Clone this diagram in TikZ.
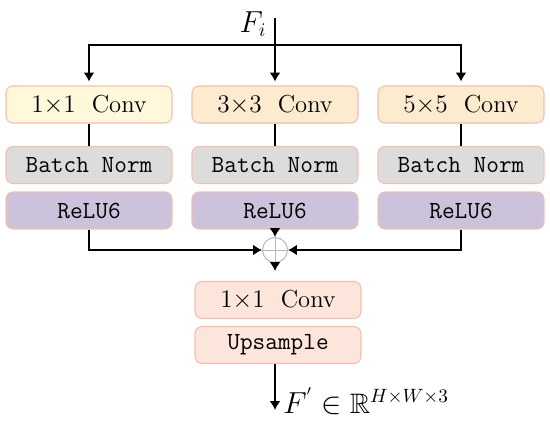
\documentclass[tikz,border=0pt]{standalone}
\usepackage{amsmath, amssymb}
\usetikzlibrary{arrows.meta}

\definecolor{edgepink}{HTML}{F2BFB0}
\definecolor{convone}{HTML}{FFF8DA}
\definecolor{convmany}{HTML}{FDEBCF}
\definecolor{normgray}{HTML}{DCDCDC}
\definecolor{relupurple}{HTML}{CCC2DC}
\definecolor{headpeach}{HTML}{FCE5DA}

\begin{document}
\begin{tikzpicture}[x=0.02cm, y=-0.02cm, line width=0.8pt,
  >={Latex[length=5pt,width=6pt]},
  blk/.style={draw=edgepink, line width=0.6pt, rounded corners=4pt,
    minimum width=3.32cm, minimum height=0.74cm, inner sep=0pt,
    font=\fontsize{14}{16}\selectfont},
  mono/.style={blk, font=\fontsize{14}{16}\selectfont\ttfamily}]
\useasboundingbox (0,0) rectangle (550,420);

% three branches
\node[blk, fill=convone] (c1) at (89,104.5) {$1{\times}1$\ \ Conv};
\node[blk, fill=convmany] (c2) at (275,104.5) {$3{\times}3$\ \ Conv};
\node[blk, fill=convmany] (c3) at (461,104.5) {$5{\times}5$\ \ Conv};
\node[mono, fill=normgray] (b1) at (89,165) {Batch Norm};
\node[mono, fill=normgray] (b2) at (275,165) {Batch Norm};
\node[mono, fill=normgray] (b3) at (461,165) {Batch Norm};
\node[mono, fill=relupurple] (r1) at (89,210.5) {ReLU6};
\node[mono, fill=relupurple] (r2) at (275,210.5) {ReLU6};
\node[mono, fill=relupurple] (r3) at (461,210.5) {ReLU6};

% fusion
\node[circle, draw=gray!55, fill=white, line width=0.6pt, minimum size=0.5cm, inner sep=0pt] (sum) at (275,250) {};
\draw[gray!55, line width=0.4pt] (sum.north) -- (sum.south) (sum.west) -- (sum.east);
\node[blk, fill=headpeach] (d1) at (278,300) {$1{\times}1$\ \ Conv};
\node[mono, fill=headpeach] (d2) at (278,345) {Upsample};

% input and output
\coordinate (in) at (275,18);
\coordinate (split) at (275,45);
\coordinate (out) at (275,410);
\node[font=\fontsize{16}{18}\selectfont, anchor=east] (fin) at (273,24) {$F_i$};
\node[font=\fontsize{16}{18}\selectfont, anchor=west, inner sep=1pt] (fout) at (281,401) {$F^{'}\in\mathbb{R}^{H\times W\times 3}$};

\draw[->, shorten >=0.08cm] (in) -- (c2);
\draw[->, shorten >=0.08cm] (split) -| (c1);
\draw[->, shorten >=0.08cm] (split) -| (c3);
\draw (c1) -- (b1);
\draw (c2) -- (b2);
\draw (c3) -- (b3);
\draw[->] (r1) |- (sum);
\draw[->] (r2) -- (sum);
\draw[->] (r3) |- (sum);
\draw[->, shorten >=0.2cm] (sum) -- (sum |- d1.north);
\draw[->] (d2.south -| out) -- (out);
\end{tikzpicture}
\end{document}
